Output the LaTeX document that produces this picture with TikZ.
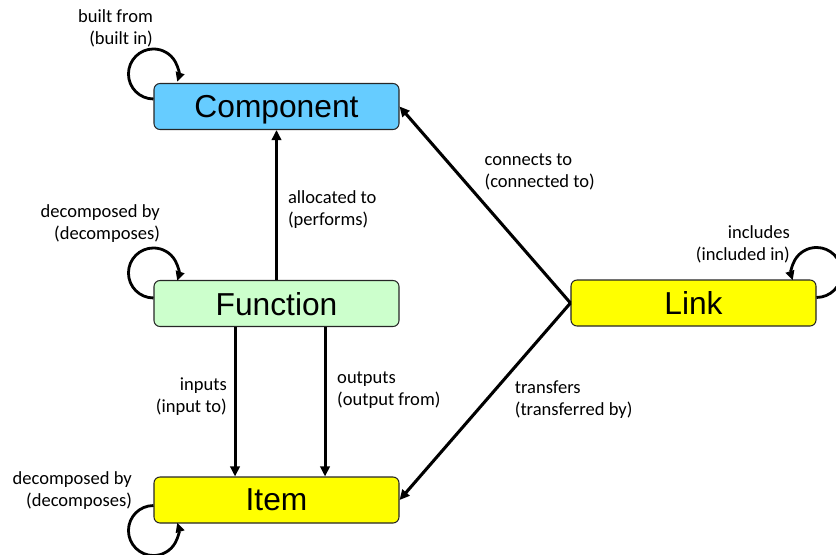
\documentclass[tikz,border=0pt]{standalone}
\usepackage{fontspec}
\setmainfont{Liberation Sans}
\newfontfamily\lblfont{Carlito}
\usetikzlibrary{arrows.meta}
\definecolor{compblue}{RGB}{102,204,255}
\definecolor{funcgreen}{RGB}{204,255,204}
\definecolor{itemyellow}{RGB}{255,255,0}

\begin{document}
\begin{tikzpicture}[x=0.75pt, y=0.75pt,
    box/.style={rectangle, rounded corners=4.5pt, draw=black!85, line width=0.8pt, minimum width=183.75pt, minimum height=34.5pt, text depth=0pt, font=\fontsize{23.8}{28}\selectfont},
    lbl/.style={font=\lblfont\fontsize{13.9}{16.5}\selectfont, inner sep=1pt},
    arrow/.style={-{Triangle[length=7.5pt,width=7pt]}, line width=2.3pt},
    selfloop/.style={-{Triangle[length=7pt,width=6.5pt]}, line width=2.1pt},
]
\useasboundingbox (0,0) rectangle (836,-554);

\node[box, fill=compblue] (comp) at (276.5,-106.5) {Component};
\node[box, fill=funcgreen] (func) at (276.5,-303.5) {Function};
\node[box, fill=itemyellow] (item) at (276.5,-500) {Item};
\node[box, fill=itemyellow] (link) at (693.5,-303) {Link};

\draw[arrow] (func) -- (comp) node[midway, right=6.5pt, lbl, align=left, yshift=-3.4pt] {allocated to\\(performs)};
\draw[arrow] ([xshift=-31.1pt]func.south) -- ([xshift=-31.1pt]item.north) node[midway, left=4pt, lbl, align=right, yshift=3.75pt] {inputs\\(input to)};
\draw[arrow] ([xshift=36.4pt]func.south) -- ([xshift=36.4pt]item.north) node[midway, right=7pt, lbl, align=left, yshift=9pt] {outputs\\(output from)};
\draw[arrow] (link.west) -- (comp.east) node[pos=0.667, right=19pt, lbl, align=left] {connects to\\(connected to)};
\draw[arrow] (link.west) -- (item.east) node[pos=0.49, right=19pt, lbl, align=left] {transfers\\(transferred by)};

% self loops
\draw[selfloop] ([yshift=-12pt]comp.north west) arc[start angle=270, end angle=-18, radius=25];
\draw[selfloop] ([yshift=-13.5pt]func.north west) arc[start angle=270, end angle=-18, radius=25];
\draw[selfloop] ([yshift=13.5pt]item.south west) arc[start angle=90, end angle=378, radius=25];
\draw[selfloop] ([yshift=-13.5pt]link.north east) arc[start angle=-90, end angle=198, radius=25];

\node[lbl, align=right, anchor=east] (builtlbl) at (154.5,-28) {built from\\(built in)};
\node[lbl, align=right, anchor=east] (funcdeclbl) at (161.5,-224) {decomposed by\\(decomposes)};
\node[lbl, align=right, anchor=east] (itemdeclbl) at (133.5,-491) {decomposed by\\(decomposes)};
\node[lbl, align=right, anchor=east] (inclbl) at (791.5,-244) {includes\\(included in)};
\end{tikzpicture}
\end{document}
